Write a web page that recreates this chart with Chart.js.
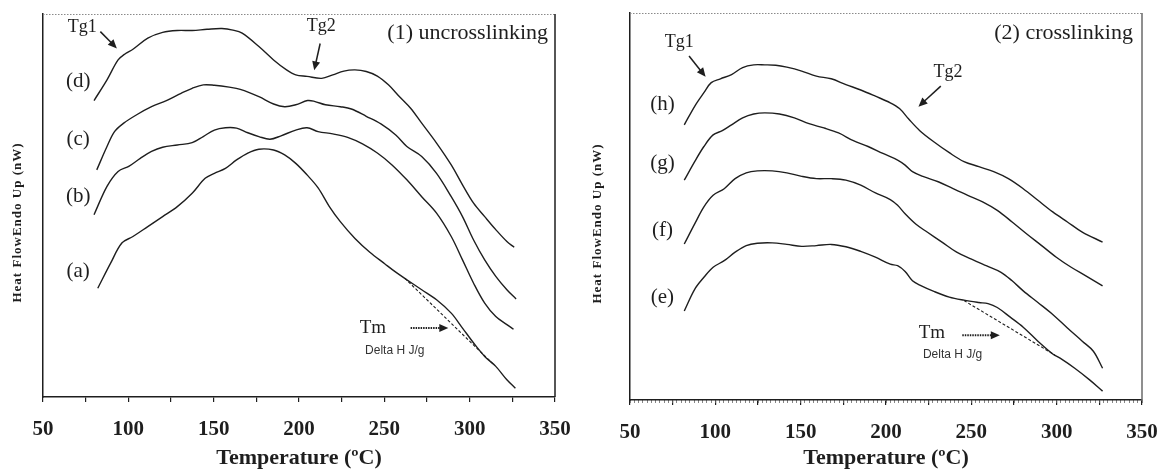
<!DOCTYPE html>
<html>
<head>
<meta charset="utf-8">
<script src="https://cdn.jsdelivr.net/npm/chart.js@4.4.1/dist/chart.umd.min.js"></script>
<style>
html, body { margin: 0; padding: 0; background: #fff; }
#wrap { position: relative; width: 1159px; height: 469px; }
#c1 { position: absolute; left: 0; top: 0; }
#c2 { position: absolute; left: 580px; top: 0; }
</style>
</head>
<body>
<div id="wrap">
  <canvas id="c1" width="580" height="469"></canvas>
  <canvas id="c2" width="579" height="469"></canvas>
</div>
<script>
// (1) uncrosslinking - temperature (C) and heat flow (arbitrary units, 0-100 of plot height)
var tD = [79.9, 87.5, 94.0, 98.4, 102.7, 111.4, 120.1, 128.7, 137.4, 146.1, 154.8, 161.3, 166.7, 176.5, 185.1, 192.7, 198.1, 204.7, 213.3, 219.8, 226.3, 232.8, 239.4, 245.9, 252.4, 258.9, 265.4, 271.9, 280.6, 289.2, 295.8, 302.3, 308.8, 315.3, 321.8, 326.1];
var hD = [77.4, 82.8, 88.0, 89.7, 90.8, 93.7, 95.2, 95.7, 95.7, 96.0, 96.2, 95.8, 95.0, 91.5, 88.0, 85.4, 84.1, 83.7, 83.2, 84.1, 85.1, 85.4, 85.0, 83.8, 81.5, 78.4, 75.4, 71.5, 66.3, 60.6, 55.4, 50.6, 47.1, 43.7, 40.6, 39.1];
var tC = [81.5, 87.5, 91.9, 97.3, 104.9, 113.6, 122.3, 130.9, 137.4, 143.9, 150.4, 159.1, 165.6, 176.5, 185.1, 191.6, 198.1, 205.0, 209.0, 215.5, 224.2, 230.7, 239.4, 248.0, 256.7, 263.2, 271.9, 280.6, 289.2, 295.8, 302.3, 308.8, 315.3, 321.8, 327.2];
var hC = [59.3, 65.4, 69.3, 71.5, 73.7, 75.8, 77.4, 79.3, 80.6, 81.5, 81.4, 80.9, 80.3, 78.4, 76.5, 75.8, 76.3, 77.4, 77.2, 76.3, 75.8, 75.2, 73.3, 71.3, 68.4, 65.4, 62.8, 58.4, 52.3, 47.1, 41.0, 35.8, 31.5, 28.0, 25.6];
var tB = [79.9, 87.5, 94.0, 100.5, 107.0, 113.6, 120.1, 128.7, 137.4, 143.9, 150.4, 156.9, 163.4, 170.0, 176.5, 183.0, 189.5, 198.1, 204.7, 211.2, 219.8, 228.5, 237.2, 245.9, 254.5, 263.2, 271.9, 280.6, 289.2, 295.8, 302.3, 308.8, 315.3, 321.8, 325.7];
var hB = [47.6, 55.0, 58.9, 60.3, 62.3, 64.1, 65.2, 65.8, 66.4, 68.0, 69.7, 70.3, 70.2, 69.0, 68.0, 67.3, 68.2, 69.7, 70.3, 69.3, 68.7, 67.8, 66.1, 63.7, 60.6, 56.7, 52.3, 48.0, 41.9, 35.8, 29.7, 24.5, 21.0, 18.9, 17.7];
var tA = [82.1, 89.7, 96.2, 102.7, 111.4, 120.1, 128.7, 137.4, 145.0, 150.4, 156.9, 163.4, 170.0, 176.5, 185.1, 191.6, 198.1, 204.7, 211.2, 217.7, 224.2, 232.8, 241.5, 250.2, 256.7, 263.2, 271.9, 280.6, 289.2, 295.8, 302.3, 308.8, 315.3, 321.8, 326.8];
var hA = [28.4, 35.0, 40.2, 41.9, 44.5, 47.1, 49.7, 53.2, 57.1, 58.4, 59.7, 61.9, 63.7, 64.7, 64.5, 63.2, 61.0, 58.0, 54.6, 49.8, 45.8, 41.4, 37.8, 34.8, 32.6, 30.6, 28.0, 25.4, 21.9, 18.0, 14.1, 10.6, 8.0, 4.5, 2.3];
var tBaseA = [262.0, 314.0];
var hBaseA = [31.0, 8.5];

// (2) crosslinking
var tH = [81.8, 87.9, 93.3, 97.6, 103.0, 109.5, 116.0, 122.5, 129.0, 135.4, 141.9, 150.6, 159.2, 167.9, 176.5, 185.2, 193.8, 202.5, 207.9, 213.3, 219.8, 228.4, 237.1, 245.7, 254.4, 263.1, 271.7, 280.4, 289.0, 297.7, 306.3, 315.0, 326.9];
var hH = [71.1, 75.9, 79.4, 82.0, 83.0, 84.1, 85.9, 86.6, 86.6, 86.5, 86.0, 85.0, 83.7, 83.0, 81.5, 80.1, 78.5, 76.8, 75.3, 72.6, 69.6, 66.6, 63.9, 61.6, 60.3, 59.0, 57.2, 54.6, 51.6, 48.6, 46.0, 43.4, 40.8];
var tG = [81.8, 87.9, 93.3, 98.7, 104.1, 109.5, 116.0, 122.5, 129.0, 137.6, 146.3, 154.9, 163.6, 172.2, 180.9, 189.5, 198.2, 206.8, 211.2, 215.5, 222.0, 230.6, 239.3, 247.9, 256.6, 265.2, 273.9, 282.5, 291.2, 299.8, 308.5, 317.1, 326.9];
var hG = [56.8, 61.6, 65.5, 68.5, 69.6, 71.1, 72.9, 73.9, 74.2, 73.9, 72.9, 71.4, 70.3, 69.0, 67.0, 65.5, 63.7, 62.0, 60.7, 59.0, 57.7, 56.4, 54.6, 52.9, 51.2, 49.0, 46.0, 42.9, 39.9, 36.9, 34.3, 32.1, 29.5];
var tF = [81.8, 87.9, 93.3, 98.7, 105.2, 111.6, 118.1, 124.6, 133.3, 141.9, 150.6, 159.2, 167.9, 176.5, 185.2, 193.8, 202.5, 206.8, 211.2, 217.6, 224.1, 232.8, 241.4, 250.1, 258.7, 267.4, 273.9, 280.4, 289.0, 297.7, 306.3, 315.0, 321.5, 326.9];
var hF = [40.3, 45.5, 49.9, 52.9, 54.6, 57.2, 58.7, 59.2, 59.2, 58.7, 57.8, 57.2, 57.2, 56.8, 55.5, 53.5, 51.8, 50.3, 48.1, 45.4, 43.4, 40.8, 38.2, 36.4, 34.7, 33.0, 30.8, 28.2, 25.2, 22.1, 18.6, 15.2, 12.6, 8.2];
var tE = [81.8, 87.9, 93.3, 98.7, 105.2, 111.6, 118.1, 124.6, 133.3, 141.9, 150.6, 159.2, 167.9, 176.5, 185.2, 193.8, 202.5, 206.8, 211.2, 215.5, 219.8, 228.4, 237.1, 245.7, 254.4, 259.8, 265.2, 272.8, 280.4, 289.0, 297.7, 302.0, 310.6, 319.3, 326.9];
var hE = [23.0, 28.6, 31.7, 34.3, 36.0, 38.2, 39.9, 40.5, 40.6, 40.2, 39.7, 39.9, 40.2, 39.6, 38.4, 36.9, 35.1, 34.7, 33.2, 30.8, 29.7, 28.0, 26.6, 25.8, 25.2, 24.9, 23.9, 21.4, 18.8, 15.2, 11.9, 10.8, 8.2, 5.2, 2.3];
var tBaseE = [245.7, 299.0];
var hBaseE = [25.7, 11.6];

var xTicks = [50, 100, 150, 200, 250, 300, 350];
var yTitle = 'Heat FlowEndo Up (nW)';
var xTitle = 'Temperature (\u00BAC)';

var serif = '"Liberation Serif", "Times New Roman", serif';
var ink = '#1e1e1e';

function pts(t, h) {
    return t.map(function(v, i) { return { x: v, y: h[i] }; });
}

function curve(t, h) {
    return { data: pts(t, h), borderColor: ink, borderWidth: 1.4, pointRadius: 0, tension: 0.35, fill: false };
}

function baseline(t, h) {
    return { data: pts(t, h), borderColor: ink, borderWidth: 1.1, borderDash: [3, 2], pointRadius: 0, tension: 0, fill: false };
}

var notesPlugin = {
    id: 'notes',
    afterDatasetsDraw: function(chart, args, o) {
        var ctx = chart.ctx, a = chart.chartArea;
        var xs = chart.scales.x, ys = chart.scales.y;
        ctx.save();
        // top and right frame
        ctx.strokeStyle = '#8a8a8a';
        ctx.lineWidth = 1;
        ctx.setLineDash([1.5, 1.5]);
        ctx.beginPath(); ctx.moveTo(a.left, a.top + 0.5); ctx.lineTo(a.right, a.top + 0.5); ctx.stroke();
        ctx.setLineDash([]);
        ctx.strokeStyle = o.rightColor;
        ctx.lineWidth = 1.5;
        ctx.beginPath(); ctx.moveTo(a.right, a.top); ctx.lineTo(a.right, a.bottom); ctx.stroke();

        // y axis title
        ctx.save();
        ctx.fillStyle = ink;
        ctx.font = 'bold 13px ' + serif;
        ctx.letterSpacing = '1px';
        ctx.textAlign = 'center';
        ctx.textBaseline = 'middle';
        ctx.translate(o.yTitleX, (a.top + a.bottom) / 2 + 17);
        ctx.rotate(-Math.PI / 2);
        ctx.fillText(yTitle, 0, 0);
        ctx.restore();

        // texts
        o.texts.forEach(function(n) {
            ctx.fillStyle = n.color || ink;
            ctx.font = (n.font || (n.size + 'px ' + serif));
            ctx.textAlign = n.align || 'center';
            ctx.textBaseline = 'middle';
            ctx.fillText(n.t, xs.getPixelForValue(n.x), ys.getPixelForValue(n.y));
        });

        // arrows
        o.arrows.forEach(function(r) {
            var x1 = xs.getPixelForValue(r.x1), y1 = ys.getPixelForValue(r.y1);
            var x2 = xs.getPixelForValue(r.x2), y2 = ys.getPixelForValue(r.y2);
            var ang = Math.atan2(y2 - y1, x2 - x1);
            var hl = 9, hw = 4;
            ctx.strokeStyle = ink;
            ctx.fillStyle = ink;
            ctx.lineWidth = r.dash ? 2 : 1.5;
            ctx.setLineDash(r.dash ? [1.5, 1] : []);
            ctx.beginPath();
            ctx.moveTo(x1, y1);
            ctx.lineTo(x2 - Math.cos(ang) * hl * 0.8, y2 - Math.sin(ang) * hl * 0.8);
            ctx.stroke();
            ctx.setLineDash([]);
            ctx.beginPath();
            ctx.moveTo(x2, y2);
            ctx.lineTo(x2 - Math.cos(ang) * hl - Math.sin(ang) * hw, y2 - Math.sin(ang) * hl + Math.cos(ang) * hw);
            ctx.lineTo(x2 - Math.cos(ang) * hl + Math.sin(ang) * hw, y2 - Math.sin(ang) * hl - Math.cos(ang) * hw);
            ctx.closePath();
            ctx.fill();
        });
        ctx.restore();
    }
};

function makeChart(id, datasets, lay, notes, minor) {
    var scales = {
        x: {
            type: 'linear', position: 'bottom', min: 50, max: 350, weight: 1,
            afterFit: function(s) { s.height = lay.xh; s.paddingLeft = 0; s.paddingRight = 0; },
            border: { display: true, color: ink, width: 1.5 },
            grid: { display: true, drawOnChartArea: false, drawTicks: true, tickLength: 5, color: ink, lineWidth: 1.2 },
            ticks: {
                stepSize: 25, autoSkip: false, maxRotation: 0, padding: 15, color: ink,
                font: { family: serif, size: 21, weight: 'bold' },
                callback: function(v) { return xTicks.indexOf(v) >= 0 ? v : ''; }
            },
            title: { display: true, text: xTitle, color: ink, padding: { top: 0, bottom: 0 },
                     font: { family: serif, size: 22, weight: 'bold', lineHeight: 1.0 } }
        },
        y: {
            min: 0, max: 100,
            afterFit: function(s) { s.width = lay.yw; s.paddingTop = 0; s.paddingBottom = 0; },
            border: { display: true, color: ink, width: 1.5 },
            grid: { display: false },
            ticks: { display: false }
        }
    };
    if (minor) {
        scales.xm = {
            type: 'linear', position: 'bottom', min: 50, max: 350, weight: 0,
            afterFit: function(s) { s.height = 0; s.paddingLeft = 0; s.paddingRight = 0; },
            border: { display: false },
            grid: { display: true, drawOnChartArea: false, drawTicks: true, tickLength: 3, color: '#666', lineWidth: 0.8 },
            ticks: { display: false, stepSize: 2.5, autoSkip: false }
        };
    }
    return new Chart(document.getElementById(id), {
        type: 'line',
        data: { datasets: datasets },
        options: {
            responsive: false,
            animation: false,
            devicePixelRatio: 1,
            layout: { padding: { top: lay.top, right: lay.right, left: 0, bottom: 0 } },
            plugins: { legend: { display: false }, tooltip: { enabled: false }, notes: notes },
            scales: scales
        },
        plugins: [notesPlugin]
    });
}

makeChart('c1',
    [curve(tD, hD), curve(tC, hC), curve(tB, hB), curve(tA, hA), baseline(tBaseA, hBaseA)],
    { top: 14, right: 25, xh: 72, yw: 43 },
    {
        rightColor: ink,
        yTitleX: 18,
        texts: [
            { t: '(1) uncrosslinking', x: 345.9, y: 95.0, size: 22, align: 'right' },
            { t: '(d)', x: 70.6, y: 82.5, size: 21 },
            { t: '(c)', x: 70.6, y: 67.3, size: 21 },
            { t: '(b)', x: 70.6, y: 52.3, size: 21 },
            { t: '(a)', x: 70.6, y: 32.8, size: 21 },
            { t: 'Tg1', x: 73.0, y: 96.5, size: 18 },
            { t: 'Tg2', x: 213.0, y: 96.8, size: 18 },
            { t: 'Tm', x: 243.3, y: 18.0, size: 19 },
            { t: 'Delta H J/g', x: 256.1, y: 12.2, font: '12px "Liberation Sans Narrow", "Liberation Sans", sans-serif', color: '#333' }
        ],
        arrows: [
            { x1: 83.6, y1: 95.4, x2: 93.3, y2: 91.0 },
            { x1: 212.4, y1: 92.3, x2: 208.9, y2: 85.3 },
            { x1: 265.4, y1: 18.0, x2: 287.5, y2: 18.0, dash: true }
        ]
    }, false);

makeChart('c2',
    [curve(tH, hH), curve(tG, hG), curve(tF, hF), curve(tE, hE), baseline(tBaseE, hBaseE)],
    { top: 13, right: 17, xh: 69, yw: 50 },
    {
        rightColor: '#6a6a6a',
        yTitleX: 18,
        texts: [
            { t: '(2) crosslinking', x: 344.7, y: 94.7, size: 22, align: 'right' },
            { t: '(h)', x: 69.0, y: 76.3, size: 21 },
            { t: '(g)', x: 69.0, y: 61.1, size: 21 },
            { t: '(f)', x: 69.0, y: 43.8, size: 21 },
            { t: '(e)', x: 69.0, y: 26.5, size: 21 },
            { t: 'Tg1', x: 78.8, y: 92.4, size: 18 },
            { t: 'Tg2', x: 236.3, y: 84.7, size: 18 },
            { t: 'Tm', x: 226.9, y: 17.2, size: 19 },
            { t: 'Delta H J/g', x: 239.0, y: 11.7, font: '12px "Liberation Sans Narrow", "Liberation Sans", sans-serif', color: '#333' }
        ],
        arrows: [
            { x1: 84.6, y1: 88.9, x2: 94.3, y2: 83.5 },
            { x1: 232.1, y1: 81.1, x2: 219.0, y2: 75.8 },
            { x1: 244.7, y1: 16.7, x2: 266.7, y2: 16.7, dash: true }
        ]
    }, true);
</script>
</body>
</html>
